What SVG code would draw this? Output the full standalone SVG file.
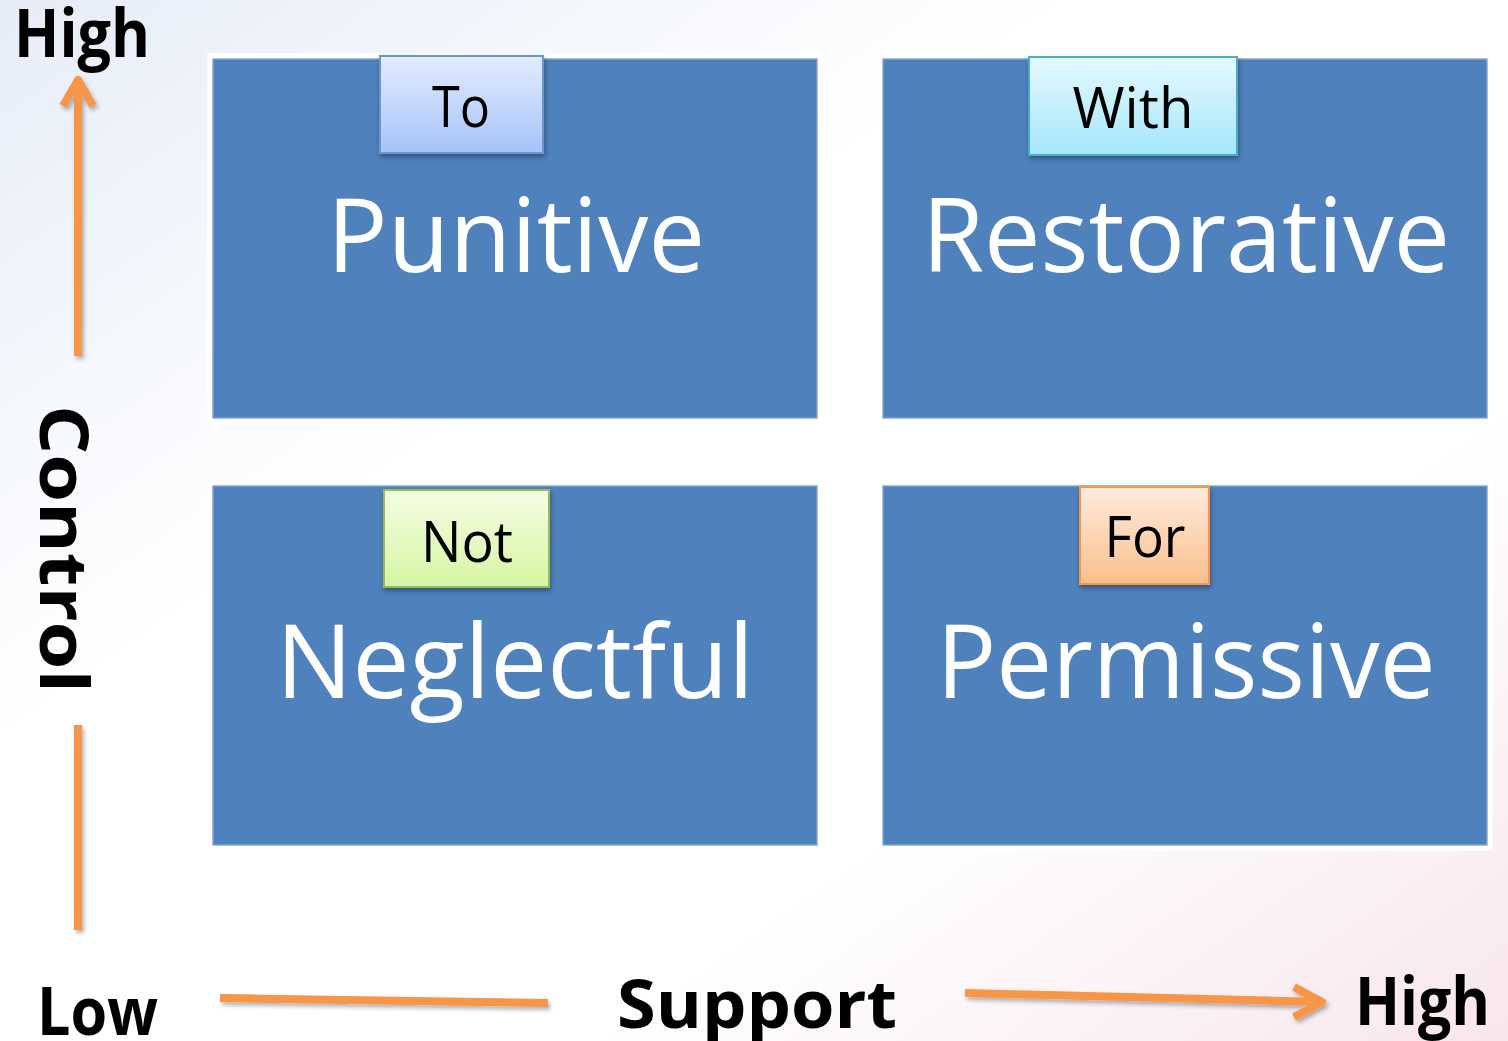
<svg xmlns="http://www.w3.org/2000/svg" width="1508" height="1041" viewBox="0 0 1508 1041">
<defs>
<linearGradient id="bg" x1="0" y1="0" x2="1" y2="1">
<stop offset="0" stop-color="#e6edf8"/>
<stop offset="0.35" stop-color="#ffffff"/>
<stop offset="0.7" stop-color="#ffffff"/>
<stop offset="1" stop-color="#f8e6ec"/>
</linearGradient>
<linearGradient id="gTo" x1="0" y1="0" x2="0" y2="1"><stop offset="0" stop-color="#e2ecff"/><stop offset="1" stop-color="#a6c3f8"/></linearGradient>
<linearGradient id="gWith" x1="0" y1="0" x2="0" y2="1"><stop offset="0" stop-color="#e6f9fe"/><stop offset="1" stop-color="#a3e7fb"/></linearGradient>
<linearGradient id="gNot" x1="0" y1="0" x2="0" y2="1"><stop offset="0" stop-color="#f5fde4"/><stop offset="1" stop-color="#d6f6a3"/></linearGradient>
<linearGradient id="gFor" x1="0" y1="0" x2="0" y2="1"><stop offset="0" stop-color="#feecdf"/><stop offset="1" stop-color="#fbbf8c"/></linearGradient>
<filter id="sh" x="-20%" y="-20%" width="140%" height="150%">
<feDropShadow dx="1" dy="3" stdDeviation="2.5" flood-color="#000" flood-opacity="0.35"/>
</filter>
<filter id="ash" x="-20%" y="-20%" width="140%" height="140%">
<feDropShadow dx="2" dy="3" stdDeviation="2" flood-color="#000" flood-opacity="0.3"/>
</filter>
<filter id="glow" x="-5%" y="-5%" width="110%" height="110%">
<feMorphology in="SourceAlpha" operator="dilate" radius="5" result="d"/>
<feFlood flood-color="#ffffff"/>
<feComposite in2="d" operator="in" result="w"/>
<feMerge><feMergeNode in="w"/><feMergeNode in="SourceGraphic"/></feMerge>
</filter>
</defs>
<style>
.quad{fill:#4f81bd;stroke:#7ea2d2;stroke-width:1.5}
.big{font-family:"Open Sans","Noto Sans",sans-serif;font-size:102px;fill:#ffffff;text-anchor:middle}
.lbl{font-family:"Open Sans","Noto Sans",sans-serif;font-size:56px;fill:#000;text-anchor:middle}
.ax{font-family:"Open Sans","Noto Sans",sans-serif;font-weight:bold;font-size:66px;fill:#000}
.arrow{fill:none;stroke:#f79646;stroke-width:8;stroke-linecap:butt;stroke-linejoin:round}
</style>
<rect x="0" y="0" width="1508" height="1041" fill="url(#bg)"/>

<g id="quads" filter="url(#glow)">
<g id="punitive">
<rect class="quad" x="213" y="59" width="604" height="359"/>
<text class="big" x="516" y="272" textLength="378" lengthAdjust="spacingAndGlyphs">Punitive</text>
</g>
<g id="restorative">
<rect class="quad" x="883" y="59" width="604" height="359"/>
<text class="big" x="1186" y="272" textLength="528" lengthAdjust="spacingAndGlyphs">Restorative</text>
</g>
<g id="neglectful">
<rect class="quad" x="213" y="486" width="604" height="359"/>
<text class="big" x="515" y="698" textLength="478" lengthAdjust="spacingAndGlyphs">Neglectful</text>
</g>
<g id="permissive">
<rect class="quad" x="883" y="486" width="604" height="359"/>
<text class="big" x="1186" y="698" textLength="499" lengthAdjust="spacingAndGlyphs">Permissive</text>
</g>
</g>

<g id="label-to">
<rect x="380" y="56" width="163" height="97" fill="url(#gTo)" stroke="#6f94cf" stroke-width="2" filter="url(#sh)"/>
<text class="lbl" x="461" y="127" textLength="58" lengthAdjust="spacingAndGlyphs">To</text>
</g>
<g id="label-with">
<rect x="1029" y="57" width="208" height="98" fill="url(#gWith)" stroke="#4bacc6" stroke-width="2" filter="url(#sh)"/>
<text class="lbl" x="1133" y="128" textLength="121" lengthAdjust="spacingAndGlyphs">With</text>
</g>
<g id="label-not">
<rect x="384" y="490" width="165" height="97" fill="url(#gNot)" stroke="#9bbb59" stroke-width="2" filter="url(#sh)"/>
<text class="lbl" x="467" y="562" textLength="92" lengthAdjust="spacingAndGlyphs">Not</text>
</g>
<g id="label-for">
<rect x="1080" y="487" width="129" height="97" fill="url(#gFor)" stroke="#f79646" stroke-width="2" filter="url(#sh)"/>
<text class="lbl" x="1145" y="557" textLength="81" lengthAdjust="spacingAndGlyphs">For</text>
</g>

<g id="axis-labels">
<text class="ax" x="14" y="57" textLength="136" lengthAdjust="spacingAndGlyphs">High</text>
<text class="ax" x="37" y="1035" textLength="121" lengthAdjust="spacingAndGlyphs">Low</text>
<text class="ax" x="617" y="1028" textLength="280" lengthAdjust="spacingAndGlyphs">Support</text>
<text class="ax" x="1355" y="1025" textLength="135" lengthAdjust="spacingAndGlyphs">High</text>
<text class="ax" transform="translate(40,549) rotate(90)" x="0" y="0" text-anchor="middle" font-size="84" textLength="288" lengthAdjust="spacingAndGlyphs">Control</text>
</g>

<g id="connectors" filter="url(#ash)">
<path class="arrow" d="M78 356 L78 80"/>
<path class="arrow" d="M63 106 L78 80 L93 106" stroke-linecap="round"/>
<path class="arrow" d="M78 725 L78 930"/>
<path class="arrow" d="M220 998 L548 1003"/>
<path class="arrow" d="M965 993 L1322 1002"/>
<path class="arrow" d="M1294 987 L1322 1002 L1294 1017" stroke-linecap="round"/>
</g>
</svg>
